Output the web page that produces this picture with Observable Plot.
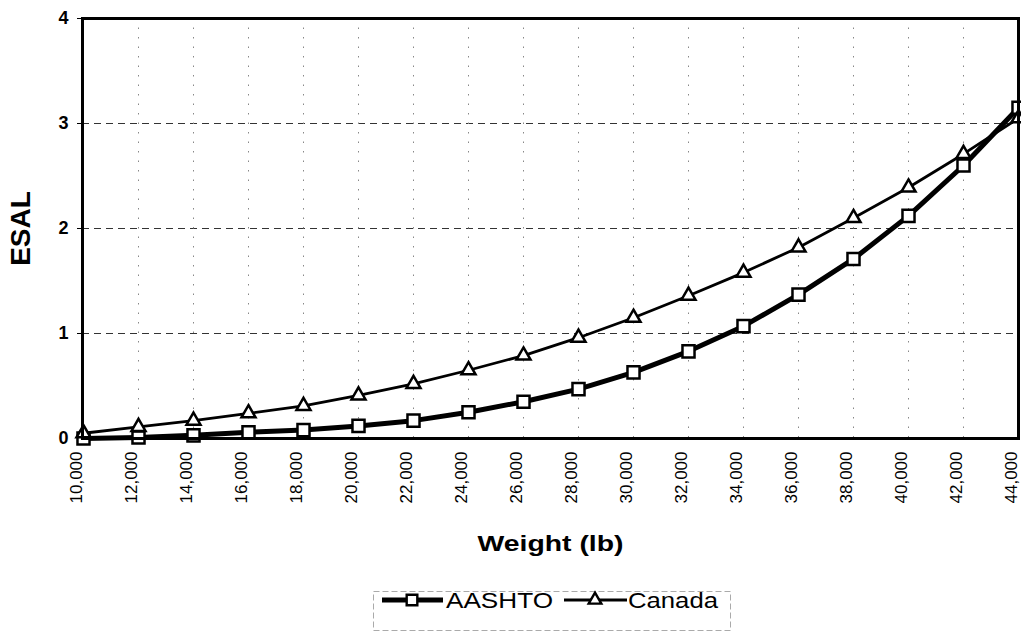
<!DOCTYPE html>
<html>
<head>
<meta charset="utf-8">
<script src="https://cdn.jsdelivr.net/npm/d3@7"></script>
<script src="https://cdn.jsdelivr.net/npm/@observablehq/plot@0.6"></script>
<style>
  html, body { margin: 0; padding: 0; background: #fff; }
  #wrap { position: relative; width: 1021px; height: 634px; overflow: hidden; font-family: "Liberation Sans", Arial, sans-serif; }
  #legend { position: absolute; left: 0; top: 570px; }
</style>
</head>
<body>
<div id="wrap"></div>
<script>
// ---- data ----
const weights = [10000, 12000, 14000, 16000, 18000, 20000, 22000, 24000, 26000, 28000, 30000, 32000, 34000, 36000, 38000, 40000, 42000, 44000];
const aashto = [0.00, 0.01, 0.03, 0.06, 0.08, 0.12, 0.17, 0.25, 0.35, 0.47, 0.63, 0.83, 1.07, 1.37, 1.71, 2.12, 2.60, 3.15];
const canada = [0.05, 0.11, 0.17, 0.24, 0.31, 0.41, 0.52, 0.65, 0.79, 0.96, 1.15, 1.36, 1.58, 1.82, 2.10, 2.39, 2.71, 3.05];
const yTicks = [0, 1, 2, 3, 4];
const gridY = [1, 2, 3];
const seriesNames = ["AASHTO", "Canada"];
const xTitle = "Weight (lb)";
const yTitle = "ESAL";

const rowsA = weights.map((w, i) => ({w, v: aashto[i]}));
const rowsC = weights.map((w, i) => ({w, v: canada[i]}));
const innerGrid = weights.slice(1, -1);

const font = "Liberation Sans, Arial, sans-serif";

const chart = Plot.plot({
  width: 1021,
  height: 570,
  marginTop: 18,
  marginLeft: 82,
  marginRight: 3,
  marginBottom: 132,
  style: {fontFamily: font, color: "#000", background: "#fff"},
  x: {type: "point", domain: weights, padding: 0},
  y: {domain: [0, 4]},
  marks: [
    Plot.ruleY(gridY, {stroke: "#333", strokeWidth: 1, strokeDasharray: "7,5"}),
    Plot.ruleX(innerGrid, {stroke: "#888", strokeWidth: 1, strokeDasharray: "1.5,8"}),
    Plot.axisY({ticks: yTicks, tickSize: 5, tickPadding: 9, fontSize: 18, fontWeight: "bold", label: null, tickFormat: d => String(d), stroke: "#000"}),
    Plot.axisX({tickRotate: -90, tickSize: 0, tickPadding: 13, fontSize: 17, dx: -7, label: null, tickFormat: d3.format(",")}),
    Plot.line(rowsA, {x: "w", y: "v", stroke: "#000", strokeWidth: 5}),
    Plot.dot(rowsA, {x: "w", y: "v", symbol: "square", r: 6.8, fill: "#fff", stroke: "#000", strokeWidth: 2.5}),
    Plot.line(rowsC, {x: "w", y: "v", stroke: "#000", strokeWidth: 2.8}),
    Plot.dot(rowsC, {x: "w", y: "v", symbol: "triangle", r: 5.2, fill: "#fff", stroke: "#000", strokeWidth: 2.5}),
    Plot.frame({stroke: "#000", strokeWidth: 3}),
    Plot.text([yTitle], {frameAnchor: "left", dx: -61, rotate: -90, text: d => d, fontSize: 28, fontWeight: "bold", textAnchor: "middle", lineAnchor: "middle"}),
    Plot.text([xTitle], {frameAnchor: "bottom", dy: 105, text: d => d, fontSize: 22, fontWeight: "bold", textAnchor: "middle", lineAnchor: "middle"})
  ]
});

// stretch x title to scanned width
d3.select(chart).selectAll("text").filter(function() { return this.textContent === xTitle; })
  .each(function() {
    this.setAttribute("textLength", 146);
    this.setAttribute("lengthAdjust", "spacingAndGlyphs");
  });

document.getElementById("wrap").appendChild(chart);

// ---- legend (below the chart) ----
const leg = d3.select("#wrap").append("svg")
  .attr("id", "legend")
  .attr("width", 1021).attr("height", 64);
leg.append("rect").attr("x", 373.5).attr("y", 21.5).attr("width", 357).attr("height", 39)
  .attr("fill", "none").attr("stroke", "#aaa").attr("stroke-width", 1).attr("stroke-dasharray", "6,3");
const cy = 30;
// AASHTO
leg.append("line").attr("x1", 382).attr("x2", 443).attr("y1", cy).attr("y2", cy).attr("stroke", "#000").attr("stroke-width", 5);
leg.append("path").attr("d", d3.symbol(d3.symbolSquare, 6.0 * 6.0 * Math.PI)()).attr("transform", `translate(412,${cy})`)
  .attr("fill", "#fff").attr("stroke", "#000").attr("stroke-width", 2.4);
leg.append("text").attr("x", 446).attr("y", cy + 8).attr("font-size", 22).attr("font-family", font)
  .attr("textLength", 107).attr("lengthAdjust", "spacingAndGlyphs").text(seriesNames[0]);
// Canada
leg.append("line").attr("x1", 564).attr("x2", 627).attr("y1", cy).attr("y2", cy).attr("stroke", "#000").attr("stroke-width", 2.8);
leg.append("path").attr("d", d3.symbol(d3.symbolTriangle, 4.7 * 4.7 * Math.PI)()).attr("transform", `translate(595,${cy})`)
  .attr("fill", "#fff").attr("stroke", "#000").attr("stroke-width", 2.4);
leg.append("text").attr("x", 628).attr("y", cy + 8).attr("font-size", 22).attr("font-family", font)
  .attr("textLength", 90).attr("lengthAdjust", "spacingAndGlyphs").text(seriesNames[1]);
</script>
</body>
</html>
